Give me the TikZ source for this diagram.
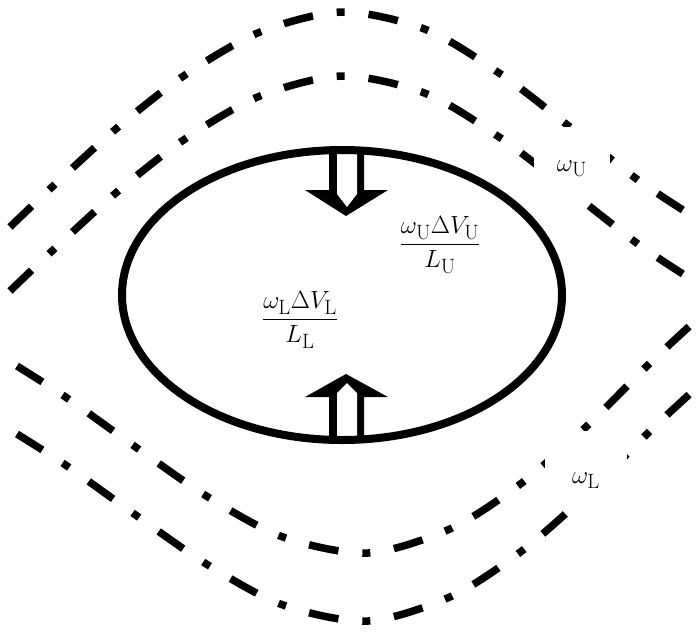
\documentclass[tikz,border=0pt]{standalone}
\tikzset{
  dd/.style={line width=7.5pt, dash pattern=on 30pt off 24pt on 8pt off 24pt, line cap=butt},
  maskbox/.style={fill=white, inner ysep=6pt, anchor=base, font=\fontsize{28}{32}\selectfont},
  frac/.style={font=\fontsize{28}{32}\selectfont, inner sep=0pt},
  outline/.style={line width=8pt},
  arrowfill/.style={fill=black},
  hollow/.style={fill=white}
}
\begin{document}
\begin{tikzpicture}[x=1pt,y=-1pt]
\useasboundingbox (0,0) rectangle (700,633);
% upper dash-dot curves
\draw[dd] plot[smooth] coordinates {(10,227) (52,187) (117,128) (185,75) (260,32) (343,12) (427,30) (502,75) (570,127) (638,180) (686,212)};
\draw[dd] plot[smooth] coordinates {(10,291) (52,251) (117,192) (185,139) (260,96) (343,76) (427,94) (502,139) (570,191) (638,244) (686,276)};
% lower dash-dot curves
\draw[dd] plot[smooth] coordinates {(17,366) (67,398) (137,448) (208,497) (283,537) (368,553) (452,528) (523,482) (588,425) (650,363) (693,323)};
\draw[dd] plot[smooth] coordinates {(17,434) (67,466) (137,516) (208,565) (283,605) (368,621) (452,596) (523,550) (588,493) (650,431) (693,391)};
% labels masking the curves
\node[maskbox, text height=38pt, text depth=20pt, inner xsep=23pt] (wu) at (572,171) {$\omega_{\mathrm{U}}$};
\node[maskbox, text height=46pt, text depth=16pt, inner xsep=27pt] (wl) at (586,483) {$\omega_{\mathrm{L}}$};
% arrows
\fill[arrowfill] (329,150) -- (329,190) -- (305,190) -- (346,216) -- (388,190) -- (364,190) -- (364,150) -- cycle;
\fill[hollow] (337,154) -- (337,194) -- (347,207) -- (357,194) -- (357,154) -- cycle;
\fill[arrowfill] (329,440) -- (329,397) -- (305,397) -- (346,374) -- (388,397) -- (364,397) -- (364,440) -- cycle;
\fill[hollow] (337,436) -- (337,393) -- (347,383) -- (357,393) -- (357,436) -- cycle;
% ellipse
\draw[outline] (342,295) ellipse [x radius=220pt, y radius=145pt];
% fractions
\node[frac] (fu) at (440,245) {$\displaystyle\frac{\omega_{\mathrm{U}}\Delta V_{\mathrm{U}}}{L_{\mathrm{U}}}$};
\node[frac] (fl) at (300,320) {$\displaystyle\frac{\omega_{\mathrm{L}}\Delta V_{\mathrm{L}}}{L_{\mathrm{L}}}$};
\end{tikzpicture}
\end{document}
